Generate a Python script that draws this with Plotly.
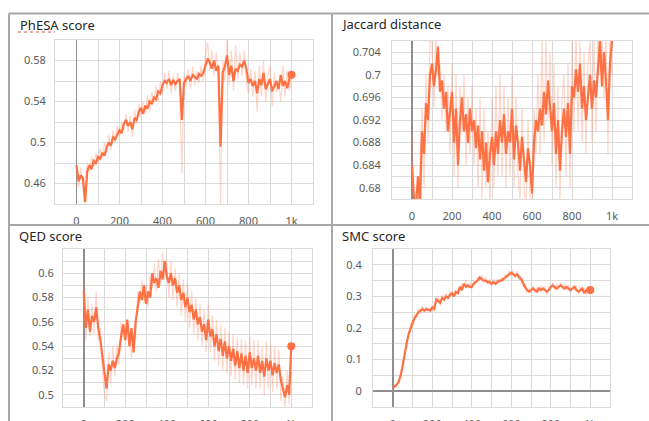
import plotly.graph_objects as go

W, H = 649, 421

steps = list(range(0, 1001, 10))

# ---------------- data ----------------
phesa_smooth = [
    0.478, 0.462, 0.468, 0.465, 0.442, 0.472, 0.478, 0.474, 0.482, 0.480,
    0.486, 0.484, 0.490, 0.487, 0.495, 0.500, 0.497, 0.505, 0.503, 0.508,
    0.512, 0.509, 0.518, 0.522, 0.516, 0.520, 0.513, 0.524, 0.522, 0.530,
    0.534, 0.528, 0.536, 0.533, 0.540, 0.538, 0.544, 0.542, 0.550, 0.548,
    0.556, 0.560, 0.558, 0.562, 0.556, 0.561, 0.557, 0.560, 0.562, 0.522,
    0.558, 0.562, 0.565, 0.560, 0.566, 0.564, 0.562, 0.567, 0.565, 0.568,
    0.574, 0.582, 0.578, 0.572, 0.580, 0.570, 0.575, 0.496, 0.568, 0.574,
    0.585, 0.566, 0.575, 0.560, 0.572, 0.570, 0.576, 0.574, 0.580, 0.572,
    0.558, 0.562, 0.555, 0.560, 0.548, 0.562, 0.556, 0.568, 0.552, 0.558,
    0.562, 0.550, 0.556, 0.560, 0.552, 0.566, 0.555, 0.560, 0.553, 0.562,
    0.566,
]
phesa_raw = [
    0.470, 0.456, 0.476, 0.458, 0.440, 0.480, 0.470, 0.486, 0.476, 0.490,
    0.480, 0.494, 0.484, 0.500, 0.490, 0.508, 0.492, 0.512, 0.500, 0.516,
    0.506, 0.520, 0.512, 0.528, 0.510, 0.526, 0.505, 0.532, 0.518, 0.538,
    0.526, 0.540, 0.528, 0.546, 0.530, 0.550, 0.538, 0.556, 0.540, 0.560,
    0.548, 0.568, 0.552, 0.570, 0.548, 0.566, 0.550, 0.568, 0.556, 0.470,
    0.565, 0.555, 0.572, 0.552, 0.574, 0.556, 0.570, 0.558, 0.575, 0.560,
    0.585, 0.598, 0.570, 0.590, 0.565, 0.588, 0.560, 0.440, 0.580, 0.560,
    0.600, 0.555, 0.590, 0.550, 0.595, 0.562, 0.588, 0.565, 0.590, 0.560,
    0.548, 0.572, 0.545, 0.570, 0.530, 0.575, 0.545, 0.580, 0.540, 0.565,
    0.575, 0.535, 0.568, 0.548, 0.560, 0.540, 0.575, 0.545, 0.570, 0.550,
    0.566,
]

jaccard_smooth = [
    0.684, 0.678, 0.677, 0.682, 0.677, 0.690, 0.686, 0.695, 0.692, 0.700,
    0.702, 0.698, 0.701, 0.705, 0.697, 0.699, 0.694, 0.697, 0.690, 0.693,
    0.697, 0.688, 0.694, 0.684, 0.692, 0.696, 0.690, 0.693, 0.688, 0.694,
    0.690, 0.692, 0.687, 0.691, 0.685, 0.690, 0.683, 0.688, 0.681, 0.686,
    0.689, 0.684, 0.690, 0.686, 0.692, 0.688, 0.693, 0.686, 0.690, 0.688,
    0.694, 0.685, 0.691, 0.688, 0.683, 0.689, 0.685, 0.681, 0.687, 0.684,
    0.679, 0.688, 0.692, 0.690, 0.694, 0.691, 0.697, 0.693, 0.699, 0.694,
    0.690, 0.695, 0.686, 0.692, 0.683, 0.690, 0.694, 0.689, 0.695, 0.686,
    0.698, 0.696, 0.701, 0.697, 0.702, 0.694, 0.698, 0.692, 0.696, 0.700,
    0.694, 0.699, 0.696, 0.701, 0.706, 0.698, 0.704, 0.699, 0.692, 0.702,
    0.706,
]
jaccard_raw = [
    0.690, 0.674, 0.680, 0.676, 0.684, 0.694, 0.680, 0.700, 0.688, 0.706,
    0.706, 0.694, 0.708, 0.700, 0.702, 0.692, 0.700, 0.690, 0.698, 0.686,
    0.702, 0.682, 0.700, 0.680, 0.698, 0.690, 0.700, 0.684, 0.696, 0.686,
    0.698, 0.684, 0.694, 0.680, 0.696, 0.678, 0.694, 0.680, 0.690, 0.676,
    0.696, 0.680, 0.698, 0.682, 0.700, 0.682, 0.698, 0.680, 0.696, 0.682,
    0.700, 0.680, 0.696, 0.682, 0.678, 0.694, 0.680, 0.676, 0.692, 0.678,
    0.676, 0.694, 0.686, 0.700, 0.686, 0.706, 0.688, 0.706, 0.692, 0.704,
    0.684, 0.702, 0.680, 0.698, 0.678, 0.696, 0.700, 0.682, 0.702, 0.680,
    0.706, 0.690, 0.708, 0.690, 0.706, 0.688, 0.704, 0.686, 0.702, 0.706,
    0.688, 0.706, 0.690, 0.708, 0.700, 0.706, 0.696, 0.708, 0.686, 0.708,
    0.700,
]

qed_smooth = [
    0.585, 0.555, 0.570, 0.552, 0.565, 0.560, 0.572, 0.555, 0.545, 0.530,
    0.515, 0.505, 0.525, 0.520, 0.528, 0.522, 0.530, 0.535, 0.548, 0.558,
    0.545, 0.562, 0.540, 0.555, 0.535, 0.560, 0.572, 0.585, 0.578, 0.590,
    0.575, 0.585, 0.580, 0.600, 0.592, 0.596, 0.588, 0.602, 0.595, 0.610,
    0.598, 0.592, 0.600, 0.590, 0.596, 0.584, 0.590, 0.578, 0.584, 0.572,
    0.580, 0.568, 0.574, 0.562, 0.570, 0.558, 0.564, 0.552, 0.558, 0.545,
    0.562, 0.548, 0.554, 0.540, 0.550, 0.536, 0.546, 0.532, 0.544, 0.530,
    0.540, 0.528, 0.538, 0.524, 0.536, 0.522, 0.534, 0.520, 0.532, 0.518,
    0.535, 0.522, 0.530, 0.520, 0.532, 0.518, 0.528, 0.515, 0.530, 0.520,
    0.528, 0.516, 0.526, 0.518, 0.525, 0.512, 0.505, 0.498, 0.508, 0.500,
    0.540,
]
qed_raw = [
    0.595, 0.545, 0.580, 0.548, 0.575, 0.550, 0.585, 0.545, 0.555, 0.520,
    0.500, 0.495, 0.535, 0.510, 0.540, 0.515, 0.542, 0.525, 0.560, 0.548,
    0.558, 0.550, 0.552, 0.530, 0.548, 0.545, 0.585, 0.575, 0.595, 0.575,
    0.590, 0.572, 0.598, 0.588, 0.608, 0.585, 0.612, 0.590, 0.618, 0.595,
    0.612, 0.580, 0.610, 0.578, 0.605, 0.572, 0.600, 0.565, 0.595, 0.560,
    0.592, 0.555, 0.585, 0.550, 0.580, 0.545, 0.575, 0.540, 0.570, 0.535,
    0.575, 0.535, 0.565, 0.528, 0.562, 0.524, 0.558, 0.520, 0.555, 0.518,
    0.552, 0.515, 0.550, 0.512, 0.548, 0.510, 0.546, 0.508, 0.545, 0.505,
    0.548, 0.508, 0.545, 0.505, 0.545, 0.505, 0.540, 0.500, 0.544, 0.505,
    0.542, 0.502, 0.540, 0.505, 0.538, 0.495, 0.515, 0.488, 0.520, 0.492,
    0.540,
]

smc_smooth = [
    0.010, 0.015, 0.020, 0.030, 0.050, 0.080, 0.120, 0.150, 0.180, 0.200,
    0.215, 0.230, 0.240, 0.250, 0.255, 0.260, 0.255, 0.260, 0.258, 0.255,
    0.265, 0.260, 0.290, 0.285, 0.280, 0.295, 0.290, 0.300, 0.295, 0.305,
    0.310, 0.300, 0.315, 0.310, 0.330, 0.320, 0.340, 0.330, 0.335, 0.330,
    0.330, 0.340, 0.345, 0.350, 0.360, 0.355, 0.350, 0.350, 0.345, 0.345,
    0.340, 0.345, 0.340, 0.345, 0.350, 0.350, 0.355, 0.360, 0.365, 0.370,
    0.375, 0.370, 0.365, 0.370, 0.360, 0.355, 0.340, 0.330, 0.320, 0.315,
    0.320, 0.325, 0.320, 0.315, 0.325, 0.320, 0.325, 0.320, 0.315, 0.320,
    0.330, 0.335, 0.330, 0.325, 0.330, 0.335, 0.330, 0.325, 0.330, 0.325,
    0.320, 0.325, 0.330, 0.320, 0.315, 0.320, 0.325, 0.310, 0.320, 0.315,
    0.320,
]
smc_raw = [
    0.005, 0.020, 0.015, 0.035, 0.045, 0.090, 0.110, 0.160, 0.175, 0.215,
    0.205, 0.245, 0.230, 0.262, 0.245, 0.270, 0.248, 0.268, 0.250, 0.262,
    0.255, 0.272, 0.280, 0.300, 0.270, 0.305, 0.282, 0.312, 0.288, 0.318,
    0.300, 0.315, 0.305, 0.322, 0.318, 0.340, 0.330, 0.352, 0.325, 0.345,
    0.322, 0.350, 0.338, 0.360, 0.350, 0.368, 0.342, 0.360, 0.338, 0.355,
    0.332, 0.355, 0.335, 0.355, 0.342, 0.360, 0.348, 0.370, 0.358, 0.382,
    0.365, 0.385, 0.358, 0.380, 0.352, 0.365, 0.330, 0.340, 0.312, 0.325,
    0.310, 0.335, 0.312, 0.328, 0.315, 0.335, 0.315, 0.332, 0.305, 0.330,
    0.322, 0.345, 0.320, 0.340, 0.322, 0.345, 0.320, 0.338, 0.322, 0.336,
    0.310, 0.335, 0.320, 0.335, 0.305, 0.330, 0.315, 0.325, 0.305, 0.328,
    0.320,
]

titles = ["PhESA score", "Jaccard distance", "QED score", "SMC score"]
x_tickvals = [0, 200, 400, 600, 800, 1000]
x_ticktext = ["0", "200", "400", "600", "800", "1k"]
y_tickvals = [
    [0.46, 0.5, 0.54, 0.58],
    [0.68, 0.684, 0.688, 0.692, 0.696, 0.7, 0.704],
    [0.5, 0.52, 0.54, 0.56, 0.58, 0.6],
    [0, 0.1, 0.2, 0.3, 0.4],
]
y_ticktext = [
    ["0.46", "0.5", "0.54", "0.58"],
    ["0.68", "0.684", "0.688", "0.692", "0.696", "0.7", "0.704"],
    ["0.5", "0.52", "0.54", "0.56", "0.58", "0.6"],
    ["0", "0.1", "0.2", "0.3", "0.4"],
]

# ---------------- styling / layout ----------------
LINE = "#ff7043"
RAW = "rgba(255,112,67,0.28)"
GRID = "#dadada"
ZERO = "#8f8f8f"
FONT = "Noto Sans"


def px_x(v):
    return v / W


def px_y(v):
    return 1 - v / H


# plot areas in pixels: (x0, x1, ytop, ybottom)
areas = [(55, 313, 40, 204), (392, 632, 41, 199), (63, 312, 249, 407), (373, 610, 249, 407)]
y_ranges = [[0.44, 0.60], [0.678, 0.706], [0.49, 0.62], [-0.05, 0.45]]
y_minor = [(0.44, 0.02), (0.678, 0.002), (0.49, 0.01), (-0.05, 0.05)]
y_standoff = [6, 8, 6, 8]
title_pos = [(18, 25), (339, 24), (17, 236), (340, 236)]

series = [
    (phesa_smooth, phesa_raw, True),
    (jaccard_smooth, jaccard_raw, False),
    (qed_smooth, qed_raw, True),
    (smc_smooth, smc_raw, True),
]

fig = go.Figure()
layout = dict(
    width=W, height=H, margin=dict(l=0, r=0, t=0, b=0, autoexpand=False),
    paper_bgcolor="white", plot_bgcolor="white", showlegend=False,
    font=dict(family=FONT, size=11, color="#5a5a5a"),
)

annotations = []
for i in range(4):
    n = "" if i == 0 else str(i + 1)
    xa, ya = "x" + n, "y" + n
    smooth, raw, end_dot = series[i]
    fig.add_trace(go.Scatter(x=steps, y=raw, mode="lines", xaxis=xa, yaxis=ya,
                             line=dict(color=RAW, width=1.2), hoverinfo="skip"))
    fig.add_trace(go.Scatter(x=steps, y=smooth, mode="lines", xaxis=xa, yaxis=ya,
                             line=dict(color=LINE, width=2.2)))
    if end_dot:
        fig.add_trace(go.Scatter(x=steps[-1:], y=smooth[-1:], mode="markers",
                                 xaxis=xa, yaxis=ya, cliponaxis=False,
                                 marker=dict(color=LINE, size=8)))
    x0, x1, yt, yb = areas[i]
    layout["xaxis" + n] = dict(
        domain=[px_x(x0), px_x(x1)], anchor=ya, range=[-100, 1100],
        tickmode="array", tickvals=x_tickvals, ticktext=x_ticktext,
        showgrid=True, gridcolor=GRID, gridwidth=1,
        minor=dict(tickmode="linear", tick0=-100, dtick=100, showgrid=True,
                   gridcolor=GRID, gridwidth=1),
        showline=True, linecolor=GRID, mirror=True,
        zeroline=True, zerolinecolor=ZERO, zerolinewidth=1.5,
        ticks="", ticklabelstandoff=7, automargin=False, fixedrange=True,
    )
    t0, dt = y_minor[i]
    layout["yaxis" + n] = dict(
        domain=[px_y(yb), px_y(yt)], anchor=xa, range=y_ranges[i],
        tickmode="array", tickvals=y_tickvals[i], ticktext=y_ticktext[i],
        showgrid=True, gridcolor=GRID, gridwidth=1,
        minor=dict(tickmode="linear", tick0=t0, dtick=dt, showgrid=True,
                   gridcolor=GRID, gridwidth=1),
        showline=True, linecolor=GRID, mirror=True,
        zeroline=(i == 3), zerolinecolor=ZERO, zerolinewidth=1.5,
        ticks="", ticklabelstandoff=y_standoff[i], automargin=False, fixedrange=True,
    )
    tx, ty = title_pos[i]
    annotations.append(dict(text=titles[i], x=px_x(tx), y=px_y(ty), xref="paper", yref="paper",
                            xanchor="left", yanchor="middle", showarrow=False,
                            font=dict(family=FONT, size=13, color="#262626")))

BORDER = "#a8a8a8"
shapes = [
    dict(type="line", xref="paper", yref="paper", x0=px_x(9), x1=1, y0=px_y(13.5), y1=px_y(13.5),
         line=dict(color=BORDER, width=2)),
    dict(type="line", xref="paper", yref="paper", x0=px_x(9), x1=1, y0=px_y(225), y1=px_y(225),
         line=dict(color=BORDER, width=2)),
    dict(type="line", xref="paper", yref="paper", x0=px_x(9), x1=px_x(9), y0=0, y1=px_y(13.5),
         line=dict(color=BORDER, width=2)),
    dict(type="line", xref="paper", yref="paper", x0=px_x(332), x1=px_x(332), y0=0, y1=px_y(13.5),
         line=dict(color=BORDER, width=2)),
    # spell-check underline under "PhESA"
    dict(type="line", xref="paper", yref="paper", x0=px_x(18), x1=px_x(55), y0=px_y(32), y1=px_y(32),
         line=dict(color="#e05050", width=1, dash="dot")),
]

layout["annotations"] = annotations
layout["shapes"] = shapes
fig.update_layout(**layout)
fig.write_html(
    "out.html",
    config={"displayModeBar": False, "staticPlot": True},
    post_script="document.body.style.margin='0';document.body.style.overflow='hidden';",
)
